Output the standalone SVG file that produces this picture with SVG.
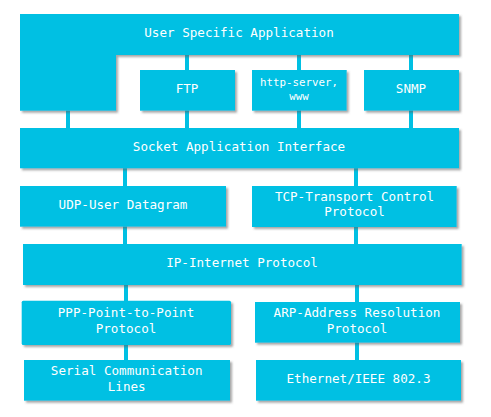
<svg xmlns="http://www.w3.org/2000/svg" width="491" height="417" viewBox="0 0 491 417">
  <defs>
    <filter id="shadow" x="-5%" y="-10%" width="115%" height="130%">
      <feDropShadow dx="2" dy="2" stdDeviation="1" flood-color="#606060" flood-opacity="0.55"/>
    </filter>
  </defs>
  <style>
    .box { fill: #00C0E3; filter: url(#shadow); }
    .link { fill: #00C0E3; }
    text { font-family: "DejaVu Sans Mono", "Liberation Mono", monospace; font-size: 12.6px; fill: #ffffff; text-anchor: middle; }
    .small { font-size: 10.8px; }
  </style>
  <rect width="491" height="417" fill="#ffffff"/>

  <!-- connectors between layers -->
  <g id="connectors">
    <rect class="link" x="66" y="108" width="4" height="22"/>
    <rect class="link" x="185" y="53" width="4" height="19"/>
    <rect class="link" x="297" y="53" width="4" height="19"/>
    <rect class="link" x="409" y="53" width="4" height="19"/>
    <rect class="link" x="185" y="108" width="4" height="22"/>
    <rect class="link" x="297" y="108" width="4" height="22"/>
    <rect class="link" x="409" y="108" width="4" height="22"/>
    <rect class="link" x="123" y="166" width="4" height="22"/>
    <rect class="link" x="354" y="166" width="4" height="22"/>
    <rect class="link" x="123" y="225" width="4" height="21"/>
    <rect class="link" x="354" y="225" width="4" height="21"/>
    <rect class="link" x="124" y="283" width="4" height="20"/>
    <rect class="link" x="355" y="283" width="4" height="21"/>
    <rect class="link" x="124" y="343" width="4" height="19"/>
    <rect class="link" x="355" y="341" width="4" height="21"/>
  </g>

  <g id="user-app">
    <path class="box" d="M20,14 H459 V55 H116 V110.7 H20 Z"/>
    <text x="239" y="37">User Specific Application</text>
  </g>
  <g id="ftp">
    <rect class="box" x="140" y="70" width="95" height="40.7"/>
    <text x="187" y="93">FTP</text>
  </g>
  <g id="http">
    <rect class="box" x="252" y="70" width="94.7" height="40.7"/>
    <text class="small" x="299" y="85.5">http-server,</text>
    <text class="small" x="299" y="100">www</text>
  </g>
  <g id="snmp">
    <rect class="box" x="364" y="70" width="95" height="40.7"/>
    <text x="411" y="93">SNMP</text>
  </g>
  <g id="socket">
    <rect class="box" x="20" y="128" width="439" height="40.3"/>
    <text x="239" y="150.5">Socket Application Interface</text>
  </g>
  <g id="udp">
    <rect class="box" x="20" y="186" width="206" height="40.7"/>
    <text x="123" y="208.5">UDP-User Datagram</text>
  </g>
  <g id="tcp">
    <rect class="box" x="252" y="186" width="204.7" height="41"/>
    <text x="354.5" y="201">TCP-Transport Control</text>
    <text x="354.5" y="216">Protocol</text>
  </g>
  <g id="ip">
    <rect class="box" x="23" y="244" width="438.7" height="41"/>
    <text x="242" y="266.5">IP-Internet Protocol</text>
  </g>
  <g id="ppp">
    <rect class="box" x="21.7" y="300.7" width="209.3" height="44.3" rx="1.5"/>
    <text x="126" y="316.5">PPP-Point-to-Point</text>
    <text x="126" y="332.5">Protocol</text>
  </g>
  <g id="arp">
    <rect class="box" x="255" y="302" width="205" height="40.7"/>
    <text x="357" y="316.5">ARP-Address Resolution</text>
    <text x="357" y="332.5">Protocol</text>
  </g>
  <g id="serial">
    <rect class="box" x="24" y="360" width="206" height="40.7"/>
    <text x="126.7" y="374.5">Serial Communication</text>
    <text x="126.7" y="390.5">Lines</text>
  </g>
  <g id="ethernet">
    <rect class="box" x="256" y="360" width="205" height="40.7"/>
    <text x="358.5" y="383">Ethernet/IEEE 802.3</text>
  </g>
</svg>
